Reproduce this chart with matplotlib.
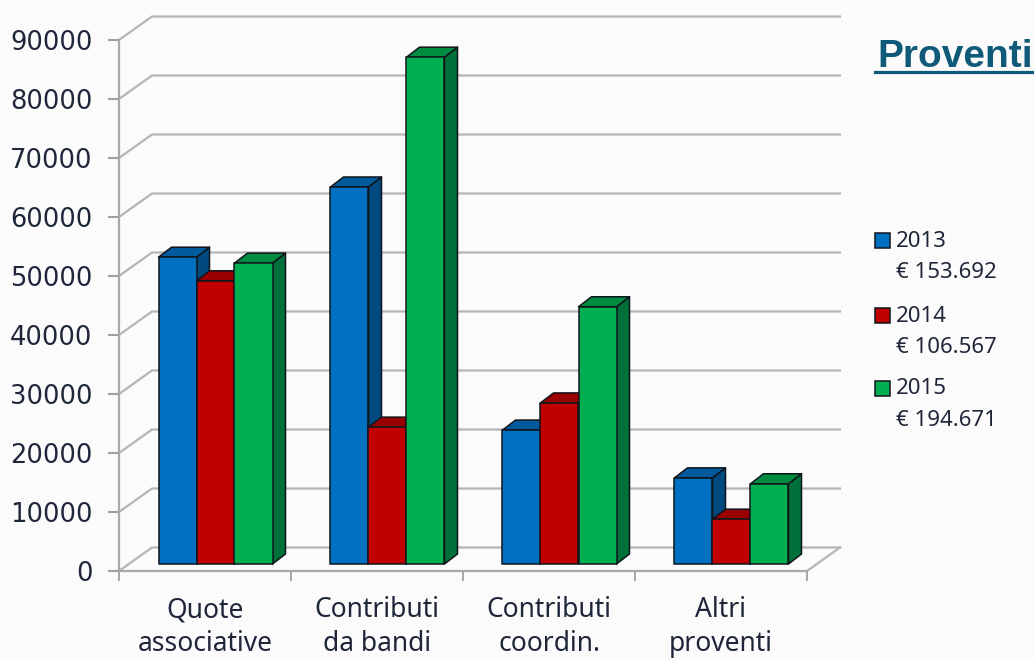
import numpy as np
import matplotlib
matplotlib.use("Agg")
import matplotlib.pyplot as plt
from matplotlib.patches import Rectangle
from matplotlib.lines import Line2D

categories = ["Quote\nassociative", "Contributi\nda bandi", "Contributi\ncoordin.", "Altri\nproventi"]
years = ["2013", "2014", "2015"]
totals = ["€ 153.692", "€ 106.567", "€ 194.671"]
v2013 = [52000, 63900, 22700, 14600]
v2014 = [48000, 23200, 27300, 7600]
v2015 = [51000, 85900, 43600, 13600]
yticks = list(range(0, 90001, 10000))

W, H = 1034, 660
BG = "#FBFBFC"
GRID = "#B5B5B5"
TXT = "#20263A"
front = ["#0070C0", "#C00000", "#00B050"]
top = ["#005A9C", "#9A0000", "#008C40"]
side = ["#004A80", "#7E0000", "#00703A"]

fig = plt.figure(figsize=(W / 100, H / 100), dpi=100, facecolor=BG)
X0, X1, Y0, Y1 = 119, 807, 571, 40
ax = fig.add_axes([X0 / W, 1 - Y0 / H, (X1 - X0) / W, (Y0 - Y1) / H])
ax.set_xlim(0, 4)
ax.set_ylim(0, 90000)
ax.patch.set_alpha(0)
pxx = 4 / (X1 - X0)
pxy = 90000 / (Y0 - Y1)

# oblique wall
wx, wy = 33 * pxx, 23.5 * pxy
for v in yticks:
    ax.plot([0, wx, 4 + wx], [v, v + wy, v + wy], color=GRID, lw=1.6, zorder=1, clip_on=False)
ax.plot([4, 4 + wx], [0, wy], color=GRID, lw=1.6, zorder=1, clip_on=False)

# bars
bw = 38 * pxx
dx, dy = 13 * pxx, 10 * pxy
base = 7 * pxy
shift = 10.5 * pxx
series = [v2013, v2014, v2015]
z = 2
for i in range(len(categories)):
    for j, vals in enumerate(series):
        l = i + 0.5 + shift + (j - 1.5) * bw
        r = l + bw
        t = vals[i] + base
        ec = dict(edgecolor="#10151C", linewidth=1.1, joinstyle="round", clip_on=False)
        ax.fill([r, r + dx, r + dx, r], [base, base + dy, t + dy, t], facecolor=side[j], zorder=z, **ec)
        ax.fill([l, r, r + dx, l + dx], [t, t, t + dy, t + dy], facecolor=top[j], zorder=z, **ec)
        ax.bar(l, vals[i], bw, bottom=base, align="edge", color=front[j], zorder=z, **ec)
        z += 1

# axes
for s in ("top", "right"):
    ax.spines[s].set_visible(False)
for s in ("left", "bottom"):
    ax.spines[s].set_color("#A9A9A9")
    ax.spines[s].set_linewidth(1.6)
ax.set_yticks(yticks)
ax.tick_params(axis="y", length=8, width=1.5, color="#A0A0A0", pad=11)
ax.set_xticks(range(5))
ax.set_xticklabels([])
ax.set_xticks(np.arange(len(categories)) + 0.5, minor=True)
ax.set_xticklabels(categories, minor=True, fontsize=19, color=TXT, family="Noto Sans", linespacing=1.3)
ax.tick_params(axis="x", which="major", length=7.5, width=1.3, color="#A0A0A0")
ax.tick_params(axis="x", which="minor", length=0, pad=18)
for lab in ax.get_yticklabels():
    lab.set_family("DejaVu Sans")
    lab.set_fontsize(18.5)
    lab.set_color(TXT)

def fx(px):
    return px / W
def fy(py):
    return 1 - py / H

# title
fig.text(fx(877), fy(67), "Proventi", fontsize=28, fontweight="bold", family="Liberation Sans", color="#0F5A78", va="baseline", ha="left")
fig.add_artist(Line2D([fx(875), fx(1032)], [fy(72), fy(72)], color="#0F5A78", lw=2.3))

# legend
rows = [(241, 273), (316, 348), (389, 421)]
for (y1, y2), yr, tot, c in zip(rows, years, totals, front):
    fig.add_artist(Rectangle((fx(874.5), fy(y1 + 7)), 15 / W, 15 / H, transform=fig.transFigure,
                             facecolor=c, edgecolor="#10151C", lw=1.1))
    fig.text(fx(896), fy(y1), yr, fontsize=16, family="Noto Sans", color=TXT, va="center", ha="left")
    fig.text(fx(896), fy(y2), tot, fontsize=16, family="Noto Sans", color=TXT, va="center", ha="left")

fig.savefig("out.png", dpi=100, facecolor=BG)
